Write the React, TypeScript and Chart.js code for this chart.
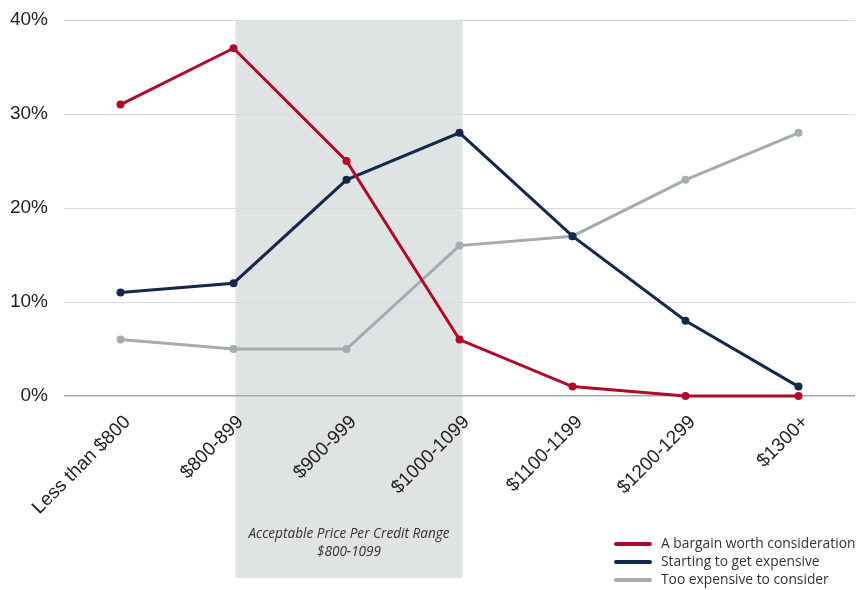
import React, { useEffect, useRef } from "react";
import { Chart, registerables } from "chart.js";

Chart.register(...registerables);

const categories = ["Less than $800", "$800-899", "$900-999", "$1000-1099", "$1100-1199", "$1200-1299", "$1300+"];
const bargain = [31, 37, 25, 6, 1, 0, 0];
const startingExpensive = [11, 12, 23, 28, 17, 8, 1];
const tooExpensive = [6, 5, 5, 16, 17, 23, 28];
const seriesLabels = ["A bargain worth consideration", "Starting to get expensive", "Too expensive to consider"];
const seriesColors = ["#B00A2A", "#14284B", "#A3ACAF"];
const yTicks = [0, 10, 20, 30, 40];
const rangeStart = 1;
const rangeEnd = 3;
const rangeNote = ["Acceptable Price Per Credit Range", "$800-1099"];

export default function App() {
  const ref = useRef<HTMLCanvasElement | null>(null);
  useEffect(() => {
    document.body.style.margin = "0";
    const canvas = ref.current;
    if (!canvas) return;

    const shadePlugin = {
      id: "shade",
      beforeDraw(chart: any) {
        const { ctx, chartArea, scales } = chart;
        const x1 = scales.x.getPixelForValue(rangeStart) + 2;
        const x2 = scales.x.getPixelForValue(rangeEnd) + 3;
        ctx.save();
        ctx.fillStyle = "#E0E3E4";
        ctx.fillRect(x1, chartArea.top, x2 - x1, 578 - chartArea.top);
        ctx.fillStyle = "#333";
        ctx.font = "italic 13.6px 'Open Sans'";
        ctx.textAlign = "center";
        ctx.textBaseline = "middle";
        const cx = (x1 + x2) / 2;
        ctx.fillText(rangeNote[0], cx, 534);
        ctx.fillText(rangeNote[1], cx, 552);
        ctx.restore();
      },
      afterDraw(chart: any) {
        const { ctx } = chart;
        ctx.save();
        ctx.font = "13.8px 'Open Sans'";
        ctx.textBaseline = "middle";
        ctx.textAlign = "left";
        seriesLabels.forEach((lbl, i) => {
          const y = 544 + i * 18;
          ctx.strokeStyle = seriesColors[i];
          ctx.lineWidth = 4;
          ctx.lineCap = "round";
          ctx.beginPath();
          ctx.moveTo(616, y);
          ctx.lineTo(650, y);
          ctx.stroke();
          ctx.fillStyle = "#333";
          ctx.fillText(lbl, 661, y);
        });
        ctx.restore();
      },
    };

    const series = [bargain, startingExpensive, tooExpensive];
    const chart = new Chart(canvas, {
      type: "line",
      data: {
        labels: categories,
        datasets: series.map((d, i) => ({
          label: seriesLabels[i],
          data: d,
          borderColor: seriesColors[i],
          backgroundColor: seriesColors[i],
          borderWidth: 3,
          pointRadius: 4,
          pointBorderWidth: 0,
          pointHoverRadius: 4,
          tension: 0,
          fill: false,
          clip: false as any,
        })),
      },
      options: {
        animation: false,
        responsive: false,
        maintainAspectRatio: false,
        layout: { padding: { top: 20, right: -2.5, left: 0, bottom: 0 } },
        plugins: { legend: { display: false }, tooltip: { enabled: false } },
        scales: {
          x: {
            offset: true,
            grid: { display: false },
            border: { display: false },
            ticks: {
              minRotation: 45,
              maxRotation: 45,
              autoSkip: false,
              padding: 7,
              labelOffset: 7,
              color: "#222",
              font: { family: "'Liberation Sans', Arial, sans-serif", size: 19 },
            },
            afterFit(scale: any) {
              scale.height = 194;
              scale.paddingLeft = 0;
              scale.paddingRight = 0;
            },
          },
          y: {
            min: 0,
            max: 40,
            afterBuildTicks(scale: any) {
              scale.ticks = yTicks.map((v) => ({ value: v }));
            },
            grid: {
              drawTicks: false,
              color: (c: any) => (c.tick && c.tick.value === 0 ? "#A8A8A8" : "#DADADA"),
              lineWidth: (c: any) => (c.tick && c.tick.value === 0 ? 1.5 : 1),
            },
            border: { display: false },
            ticks: {
              padding: 16,
              color: "#222",
              font: { family: "'Liberation Sans', Arial, sans-serif", size: 19 },
              callback: (v: any) => v + "%",
            },
            afterFit(scale: any) {
              scale.width = 64;
              scale.paddingTop = 0;
              scale.paddingBottom = 0;
            },
          },
        },
      },
      plugins: [shadePlugin],
    });
    return () => chart.destroy();
  }, []);
  return (
    <div style={{ width: 859, height: 590, position: "relative" }}>
      <canvas ref={ref} width={859} height={590} style={{ width: 859, height: 590, display: "block" }} />
    </div>
  );
}
